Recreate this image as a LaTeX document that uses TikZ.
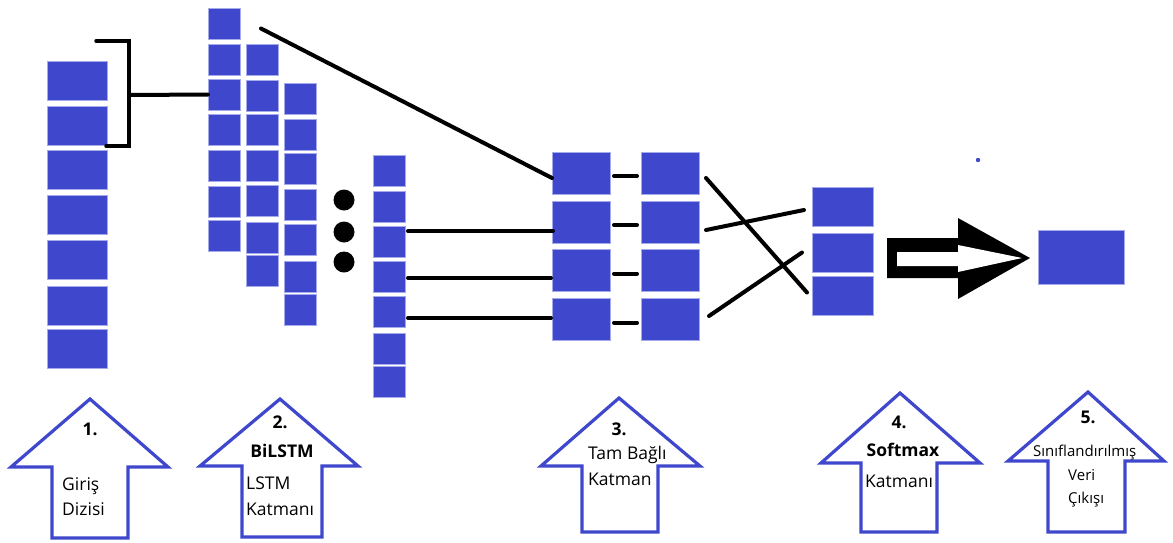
\documentclass[tikz,border=0pt]{standalone}
\usepackage{fontspec}
\setmainfont{Open Sans}
\usetikzlibrary{calc}
\definecolor{cell}{RGB}{63,72,204}
\definecolor{cellrim}{RGB}{165,170,235}
% up-pointing block arrow: tip x, tip y, head left, head right, head base y, shaft left, shaft right, bottom
\newcommand\upblock[8]{%
  \draw[flow] (#1,#2) -- (#4,#5) -- (#7,#5) -- (#7,#8) -- (#6,#8) -- (#6,#5) -- (#3,#5) -- cycle;}
\begin{document}
\begin{tikzpicture}[x=1pt,y=-1pt,
  cellbox/.style={fill=cell, draw=cellrim, line width=0.8pt, inner sep=0pt, outer sep=0pt},
  wire/.style={line width=4pt, line cap=round, line join=round, black},
  flow/.style={draw=cell, line width=3.2pt, fill=white, line join=miter},
  lab/.style={inner sep=0pt, font=\fontsize{17.5}{20}\selectfont},
  labs/.style={inner sep=0pt, font=\fontsize{15}{18}\selectfont},
  labb/.style={inner sep=0pt, font=\fontsize{17.5}{20}\selectfont\bfseries},
  dot/.style={circle, fill=black, inner sep=0pt, minimum size=21pt}]
\useasboundingbox (0,0) rectangle (1173,542);

% input sequence
\foreach \t [count=\i] in {61,106,150,195,240,286,329}
  \node[cellbox, minimum width=60pt, minimum height=39pt] (in\i) at (77,\t+19.5) {};

% BiLSTM stacks
\foreach \t [count=\i] in {8,44,79,114,150,186,220}
  \node[cellbox, minimum width=32pt, minimum height=31pt] (la\i) at (224,\t+15.5) {};
\foreach \t [count=\i] in {44,80,114,150,185,222,255}
  \node[cellbox, minimum width=32pt, minimum height=31pt] (lb\i) at (262,\t+15.5) {};
\foreach \t [count=\i] in {83,119,153,189,224,261,294}
  \node[cellbox, minimum width=32pt, minimum height=31pt] (lc\i) at (300.5,\t+15.5) {};
\foreach \t [count=\i] in {155,191,226,261,296,333,366}
  \node[cellbox, minimum width=32pt, minimum height=31pt] (ld\i) at (389,\t+15.5) {};

% ellipsis dots
\node[dot] (d1) at (344,200) {};
\node[dot] (d2) at (344,232) {};
\node[dot] (d3) at (344,262) {};

% fully connected layer
\foreach \c [count=\i] in {173,222,270.5,319.5} {
  \node[cellbox, minimum width=58pt, minimum height=42pt] (fa\i) at (581,\c) {};
  \node[cellbox, minimum width=58pt, minimum height=42pt] (fb\i) at (670,\c) {};
}

% softmax layer
\foreach \c [count=\i] in {206.5,252.5,295.5}
  \node[cellbox, minimum width=61pt, minimum height=39pt] (s\i) at (842.5,\c) {};

% output
\node[cellbox, minimum width=86pt, minimum height=54pt] (out) at (1081,257) {};
\fill[cell] (978,160) circle (2.2);

% bracket over the first inputs
\draw[wire, line width=3.5pt, line join=miter, line cap=round] (96,41) -- (129,41) -- (129,146) -- (106,146);
\coordinate (brk) at (129,95);
\draw[wire] (brk) -- (la3.west);

% connections into the dense layer
\draw[wire] ([xshift=21pt,yshift=-5pt]la1.east) -- ([yshift=-5pt]fa1.west);
\draw[wire] ([xshift=3pt,yshift=10.5pt]ld3.east) -- ([xshift=1pt,yshift=-9pt]fa2.west);
\draw[wire] ([xshift=3pt,yshift=-1.5pt]ld4.east) -- ([xshift=-1pt,yshift=-7.5pt]fa3.west);
\draw[wire] ([xshift=3pt,yshift=-6.5pt]ld5.east) -- ([xshift=-1pt,yshift=1.5pt]fa4.west);
\foreach \i in {1,...,4}
  \draw[wire] ([xshift=4pt,yshift=-3pt]fa\i.east) -- ([xshift=-4pt,yshift=-3pt]fb\i.west);

% crossing connections to softmax
\draw[wire] ([xshift=7pt,yshift=-5pt]fb1.east) -- ([xshift=-5pt,yshift=3pt]s3.west);
\draw[wire] ([xshift=7pt,yshift=-8pt]fb2.east) -- ([xshift=-8pt,yshift=-3.5pt]s1.west);
\draw[wire] ([xshift=10pt,yshift=3.5pt]fb4.east) -- ([xshift=-10pt,yshift=0pt]s2.west);

% hollow arrow to the output
\fill[black] (887,238) -- (958,238) -- (958,218) -- (1030,258) -- (958,299) -- (958,278) -- (887,278) -- cycle;
\fill[white] (897,252) -- (958,252) -- (958,245) -- (1022,258) -- (958,272) -- (958,266) -- (897,266) -- cycle;

% stage arrows
\upblock{90}{399}{11}{168}{467}{52}{128}{538}
\upblock{280}{399}{200}{358}{466}{242}{322}{537}
\upblock{619}{398}{541}{700}{466}{582}{658}{532}
\upblock{900}{393}{821}{980}{463}{861}{937}{532}
\upblock{1088}{392}{1008}{1164}{461}{1048}{1125}{532}

% stage labels
\node[labb, anchor=base] (n1) at (90,435) {1.};
\node[lab, anchor=base west] (t1a) at (62,490) {Giriş};
\node[lab, anchor=base west] (t1b) at (62,515) {Dizisi};

\node[labb, anchor=base] (n2) at (280,428) {2.};
\node[labb, anchor=base] (t2a) at (282,457) {BiLSTM};
\node[lab, anchor=base west] (t2b) at (246,489) {LSTM};
\node[lab, anchor=base west] (t2c) at (246,515) {Katmanı};

\node[labb, anchor=base] (n3) at (619,435) {3.};
\node[lab, anchor=base west] (t3a) at (588,459) {Tam Bağlı};
\node[lab, anchor=base west] (t3b) at (588,485) {Katman};

\node[labb, anchor=base] (n4) at (899,428) {4.};
\node[labb, anchor=base] (t4a) at (903,456) {Softmax};
\node[lab, anchor=base west] (t4b) at (865,487) {Katmanı};

\node[labb, anchor=base] (n5) at (1088,423) {5.};
\node[labs, anchor=base west] (t5a) at (1033,456) {Sınıflandırılmış};
\node[labs, anchor=base west] (t5b) at (1068,480) {Veri};
\node[labs, anchor=base west] (t5c) at (1068,503) {Çıkışı};
\end{tikzpicture}
\end{document}
